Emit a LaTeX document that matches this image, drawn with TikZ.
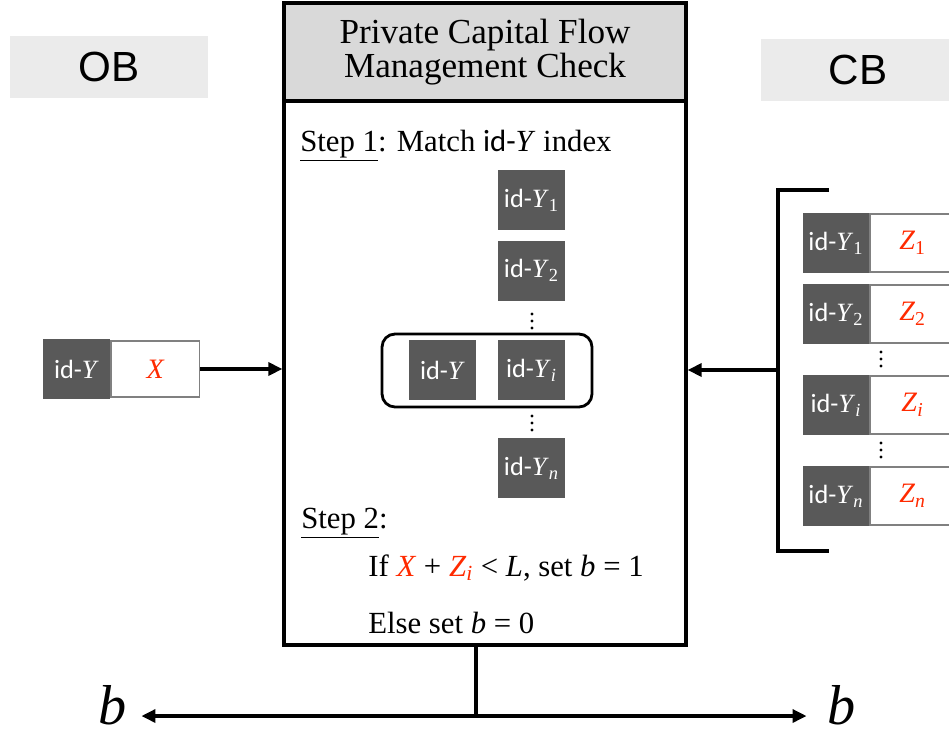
\documentclass[tikz,border=0pt]{standalone}
\usepackage{fontspec}
\setmainfont{Liberation Serif}
\setsansfont{Carlito}
\newfontfamily\arialfont{Liberation Sans}
\usetikzlibrary{arrows.meta, positioning}

\definecolor{cellgray}{HTML}{595959}
\definecolor{hdrgray}{HTML}{D9D9D9}
\definecolor{labgray}{HTML}{EBEBEB}
\definecolor{zred}{HTML}{FF2A00}

\newcommand{\idlbl}[1]{{\sffamily id-}\textit{Y}\textsubscript{#1}}
\newcommand{\zlbl}[1]{\textcolor{zred}{\textit{Z}\textsubscript{#1}}}

\begin{document}
\begin{tikzpicture}[
  x=0.02cm, y=-0.02cm,
  thickline/.style={line width=1.9pt},
  arr/.style={thickline,-{Triangle[length=0.28cm,width=0.26cm]}},
  idcell/.style={fill=cellgray,text=white,inner sep=0pt,
    minimum width=1.33cm,minimum height=1.2cm,font=\fontsize{15}{15}\selectfont},
  valcell/.style={draw=gray,line width=0.8pt,fill=white,text=zred,inner sep=0pt,
    minimum width=1.78cm,minimum height=1.12cm,font=\fontsize{16}{16}\selectfont\itshape},
  partylbl/.style={fill=labgray,inner sep=0pt,minimum height=1.23cm,
    font=\arialfont\fontsize{24}{24}\selectfont},
  steptext/.style={anchor=base west,inner sep=0pt,font=\fontsize{17.5}{17.5}\selectfont},
  bigb/.style={inner xsep=8pt,inner ysep=0pt,font=\fontsize{32}{32}\selectfont\itshape}
]
  \useasboundingbox (0,0) rectangle (949,734);
  \clip (0,0) rectangle (949,734);

  % parties
  \node[partylbl,minimum width=3.96cm] (ob) at (109,67) {OB};
  \node[partylbl,minimum width=3.9cm] (cb) at (858,70) {CB};

  % check box
  \node[draw,thickline,minimum width=8.04cm,minimum height=12.84cm] (chk) at (485,324) {};
  \node[draw,thickline,fill=hdrgray,minimum width=8.04cm,minimum height=1.96cm,
    align=center,font=\fontsize{20}{19.5}\selectfont] (hdr) at (485,52)
    {Private Capital Flow\\Management Check};

  \node[steptext] (s1) at (300,151) {\underline{Step 1}: Match {\sffamily id-}\textit{Y} index};

  % id-Y column
  \node[idcell] (cY1) at (531.5,200) {\idlbl{1}};
  \node[idcell] (cY2) at (531.5,270.5) {\idlbl{2}};
  \node[draw,line width=1.6pt,rounded corners=0.26cm,minimum width=4.2cm,
    minimum height=1.46cm] (match) at (487,370.5) {};
  \node[idcell] (cY) at (442.5,370) {{\sffamily id-}\textit{Y}};
  \node[idcell] (cYi) at (531.5,370) {\idlbl{\textit{i}}};
  \node[idcell] (cYn) at (531.5,468) {\idlbl{\textit{n}}};

  % vertical dots
  \foreach \dx/\dy in {532/314, 532/416, 881/352, 881/443}
    \foreach \k in {0,7,14}
      \fill (\dx,\dy+\k) circle (1.7);

  \node[steptext] (s2) at (301,528) {\underline{Step 2}:};
  \node[steptext] (cond) at (368,576)
    {If \textcolor{zred}{\textit{X}} + \zlbl{\textit{i}} < \textit{L}, set \textit{b} = 1};
  \node[steptext] (els) at (368,633) {Else set \textit{b} = 0};

  % OB record
  \node[idcell] (lid) at (76.5,369) {{\sffamily id-}\textit{Y}};
  \node[valcell,anchor=west] (lx) at (lid.east) {X};
  \draw[arr] (lx.east) -- (lx.east -| chk.west);

  % CB records
  \foreach \yy/\k/\s in {243/1/1, 314/2/2, 405/i/\textit{i}, 496/n/\textit{n}} {
    \node[idcell,minimum width=1.32cm] (id\k) at (836,\yy) {\idlbl{\s}};
    \node[valcell,minimum width=1.7cm,minimum height=1.16cm,anchor=west,
      font=\fontsize{16}{16}\selectfont] (z\k) at (id\k.east) {\zlbl{\s}};
  }

  % bracket and arrow into check
  \draw[thickline] (829,190) -| (778,551) -- (829,551);
  \coordinate (brk) at (778,370);
  \draw[arr] (brk) -- (brk -| chk.east);

  % output b
  \coordinate (split) at (476,716);
  \node[bigb] (bl) at (113,705) {b};
  \node[bigb,inner xsep=12pt] (br) at (842,705) {b};
  \draw[thickline] (chk.south -| split) -- (split);
  \draw[thickline,{Triangle[length=0.28cm,width=0.26cm]}-{Triangle[length=0.28cm,width=0.26cm]}]
    (split -| bl.east) -- (split -| br.west);
\end{tikzpicture}
\end{document}
